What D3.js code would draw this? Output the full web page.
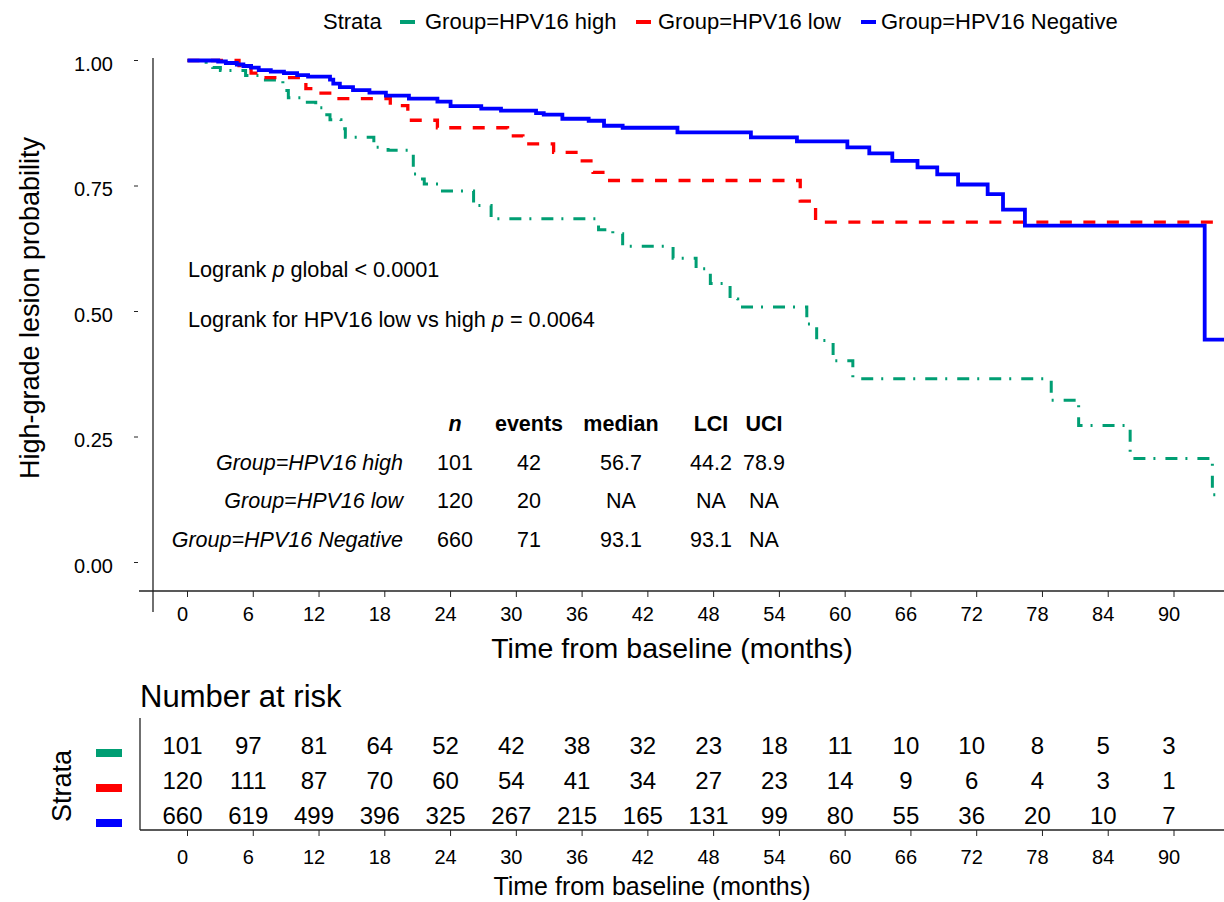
<!DOCTYPE html>
<html><head><meta charset="utf-8">
<script src="https://cdn.jsdelivr.net/npm/d3@7"></script>
<style>
html,body{margin:0;padding:0;background:#fff;}
svg{display:block;font-family:"Liberation Sans",Arial,sans-serif;}
</style></head>
<body>
<svg id="chart" width="1224" height="902"></svg>
<script>
// ---------- data ----------
const groups = ["Group=HPV16 high", "Group=HPV16 low", "Group=HPV16 Negative"];
const colors = ["#009E73", "#FF0000", "#0000FF"];

const highTimes = [0,1.7,2.3,3.0,5.3,6.9,8.7,9.2,10.5,11.7,12.3,13.0,14.0,14.4,17.0,18.3,20.6,21.1,21.6,22.9,26.1,27.7,37.5,38.8,39.7,44.3,46.4,47.7,49.5,50.2,56.5,57.4,58.9,60.7,78.8,81.3,86.0,93.5,96];
const highSurv  = [1,0.993,0.986,0.98,0.97,0.961,0.94,0.926,0.917,0.906,0.892,0.882,0.864,0.847,0.827,0.821,0.774,0.764,0.754,0.74,0.711,0.685,0.663,0.655,0.63,0.606,0.585,0.556,0.525,0.509,0.475,0.442,0.402,0.366,0.323,0.273,0.207,0.135,0.135];

const lowTimes = [0,4.7,5.8,6.8,10.8,11.9,13.3,18.5,20.1,22.8,29.2,30.6,33.4,35.6,37.0,38.2,55.9,57.3,96];
const lowSurv  = [1,0.99,0.975,0.966,0.944,0.935,0.924,0.91,0.881,0.866,0.85,0.834,0.817,0.80,0.777,0.761,0.72,0.678,0.678];

const negTimes = [0,2.8,3.5,4.5,5.1,5.8,6.5,7.6,8.8,10.0,11.0,13.0,13.3,13.9,15.1,16.6,18.1,20.2,22.8,24.0,26.8,28.6,31.8,32.5,34.2,36.6,38.0,39.7,44.7,51.4,55.6,60.2,62.2,64.3,66.6,68.4,70.3,73.0,74.4,76.4,92.8,96];
const negSurv  = [1,0.998,0.995,0.992,0.989,0.986,0.981,0.978,0.975,0.971,0.968,0.962,0.954,0.947,0.941,0.936,0.930,0.924,0.918,0.909,0.904,0.900,0.895,0.892,0.884,0.880,0.870,0.866,0.857,0.847,0.839,0.827,0.815,0.800,0.787,0.773,0.753,0.734,0.703,0.671,0.444,0.444];

const xTicks = [0,6,12,18,24,30,36,42,48,54,60,66,72,78,84,90];
const yTicks = [0,0.25,0.5,0.75,1];
const yTickLabels = ["0.00","0.25","0.50","0.75","1.00"];

const riskHigh = [101,97,81,64,52,42,38,32,23,18,11,10,10,8,5,3];
const riskLow  = [120,111,87,70,60,54,41,34,27,23,14,9,6,4,3,1];
const riskNeg  = [660,619,499,396,325,267,215,165,131,99,80,55,36,20,10,7];

const statHeaders = ["n","events","median","LCI","UCI"];
const statN      = ["101","120","660"];
const statEvents = ["42","20","71"];
const statMedian = ["56.7","NA","93.1"];
const statLCI    = ["44.2","NA","93.1"];
const statUCI    = ["78.9","NA","NA"];

// ---------- drawing ----------
const svg = d3.select("#chart");
const x = d3.scaleLinear().domain([0,90]).range([187.5,1174]);
const y = d3.scaleLinear().domain([0,1]).range([562.5,60.5]);
const axisCol = "#222";

// legend
const lg = svg.append("g").attr("font-size",22);
lg.append("text").attr("x",323).attr("y",29).text("Strata");
const legKeyX = [400,636,861], legTextX = [425,658,881];
groups.forEach((g,i)=>{
  lg.append("line").attr("x1",legKeyX[i]).attr("x2",legKeyX[i]+15).attr("y1",22).attr("y2",22)
    .attr("stroke",colors[i]).attr("stroke-width",4);
  lg.append("text").attr("x",legTextX[i]).attr("y",29).text(g);
});

// axes main plot
svg.append("line").attr("x1",153).attr("x2",153).attr("y1",58).attr("y2",612).attr("stroke",axisCol).attr("stroke-width",1.3);
svg.append("line").attr("x1",139).attr("x2",1224).attr("y1",591).attr("y2",591).attr("stroke",axisCol).attr("stroke-width",1.3);
yTicks.forEach((v,i)=>{
  svg.append("line").attr("x1",134).attr("x2",138).attr("y1",y(v)).attr("y2",y(v)).attr("stroke",axisCol).attr("stroke-width",1);
  svg.append("text").attr("x",113).attr("y",y(v)+10).attr("text-anchor","end").attr("font-size",20).text(yTickLabels[i]);
});
xTicks.forEach(t=>{
  svg.append("line").attr("x1",x(t)).attr("x2",x(t)).attr("y1",591).attr("y2",597).attr("stroke",axisCol).attr("stroke-width",1);
  svg.append("text").attr("x",x(t)-5).attr("y",621).attr("text-anchor","middle").attr("font-size",20).text(t);
});
svg.append("text").attr("x",672).attr("y",658).attr("text-anchor","middle").attr("font-size",28.5).text("Time from baseline (months)");
svg.append("text").attr("transform","translate(39,308) rotate(-90)").attr("text-anchor","middle").attr("font-size",27).text("High-grade lesion probability");

// curves
const line = d3.line().x(d=>x(d[0])).y(d=>y(d[1])).curve(d3.curveStepAfter);
const series = [
  {t:highTimes, s:highSurv, c:colors[0], w:3, dash:"12,8,2,10"},
  {t:lowTimes,  s:lowSurv,  c:colors[1], w:3.3, dash:"12,11.5"},
  {t:negTimes,  s:negSurv,  c:colors[2], w:3.8, dash:null}
];
series.forEach(se=>{
  const pts = se.t.map((t,i)=>[t,se.s[i]]);
  const p = svg.append("path").attr("d",line(pts)).attr("fill","none").attr("stroke",se.c).attr("stroke-width",se.w);
  if(se.dash) p.attr("stroke-dasharray",se.dash);
});

// annotations
const ann = svg.append("g").attr("font-size",21.7);
const a1 = ann.append("text").attr("x",188).attr("y",277);
a1.append("tspan").text("Logrank ");
a1.append("tspan").attr("font-style","italic").text("p");
a1.append("tspan").text(" global < 0.0001");
const a2 = ann.append("text").attr("x",188).attr("y",327);
a2.append("tspan").text("Logrank for HPV16 low vs high ");
a2.append("tspan").attr("font-style","italic").text("p");
a2.append("tspan").text(" = 0.0064");

// stats table
const colX = [455,529,621,711,764];
const rowY = [470,508,547];
const st = svg.append("g").attr("font-size",21.5);
statHeaders.forEach((h,i)=>{
  st.append("text").attr("x",colX[i]).attr("y",431).attr("text-anchor","middle").attr("font-weight","bold")
    .attr("font-style", i===0 ? "italic" : "normal").text(h);
});
const cols = [statN,statEvents,statMedian,statLCI,statUCI];
groups.forEach((g,r)=>{
  st.append("text").attr("x",403).attr("y",rowY[r]).attr("text-anchor","end").attr("font-style","italic").text(g);
  cols.forEach((c,ci)=>{
    st.append("text").attr("x",colX[ci]).attr("y",rowY[r]).attr("text-anchor","middle").text(c[r]);
  });
});

// risk table
svg.append("text").attr("x",140).attr("y",707).attr("font-size",31).text("Number at risk");
svg.append("line").attr("x1",140).attr("x2",140).attr("y1",718).attr("y2",830).attr("stroke",axisCol).attr("stroke-width",1.3);
svg.append("line").attr("x1",140).attr("x2",1224).attr("y1",830).attr("y2",830).attr("stroke",axisCol).attr("stroke-width",1.3);
const riskRows = [riskHigh,riskLow,riskNeg];
const riskY = [746,781,816];
const barY = [753,788,823];
riskRows.forEach((row,r)=>{
  row.forEach((v,i)=>{
    svg.append("text").attr("x",x(xTicks[i])-5).attr("y",riskY[r]+8).attr("text-anchor","middle").attr("font-size",24).text(v);
  });
  svg.append("rect").attr("x",96).attr("y",barY[r]-4).attr("width",26).attr("height",8).attr("fill",colors[r]);
});
xTicks.forEach(t=>{
  svg.append("line").attr("x1",x(t)).attr("x2",x(t)).attr("y1",830).attr("y2",836).attr("stroke",axisCol).attr("stroke-width",1);
  svg.append("text").attr("x",x(t)-5).attr("y",864).attr("text-anchor","middle").attr("font-size",20).text(t);
});
svg.append("text").attr("x",652).attr("y",895).attr("text-anchor","middle").attr("font-size",25).text("Time from baseline (months)");
svg.append("text").attr("transform","translate(71,786) rotate(-90)").attr("text-anchor","middle").attr("font-size",27).text("Strata");
</script>
</body></html>
